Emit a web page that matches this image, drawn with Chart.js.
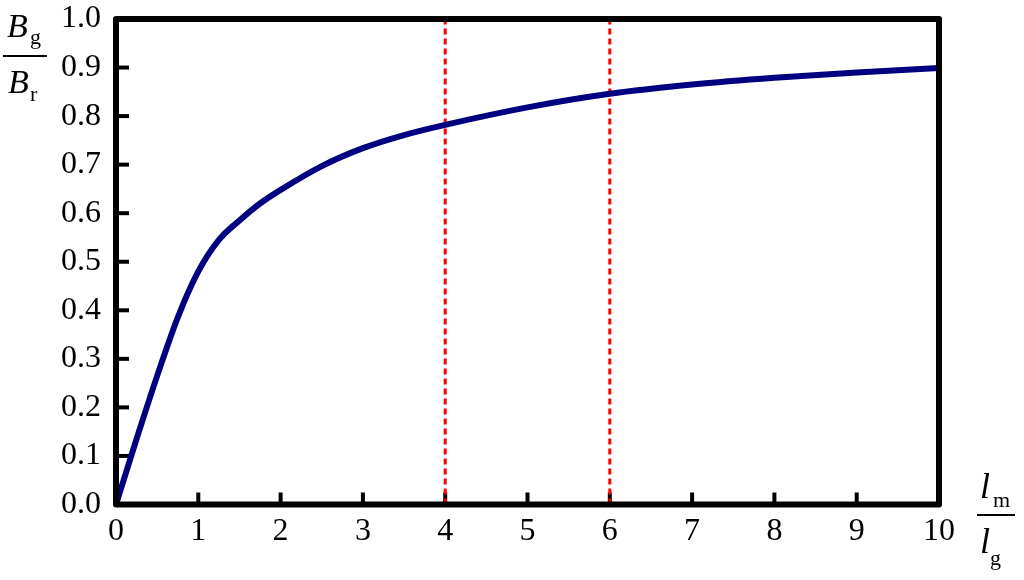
<!DOCTYPE html>
<html>
<head>
<meta charset="utf-8">
<script src="https://cdn.jsdelivr.net/npm/chart.js@4"></script>
<style>
  html, body { margin: 0; padding: 0; background: #fff; }
  #wrap { width: 1024px; height: 580px; }
</style>
</head>
<body>
<div id="wrap"><canvas id="chart"></canvas></div>
<script>
// l_m / l_g ratio and B_g / B_r ratio
const lengthRatio = [0, 0.25, 0.5, 0.75, 1, 1.25, 1.5, 1.75, 2, 2.5, 3, 3.5, 4, 5, 6, 7, 8, 9, 10];
const fluxRatio = [0, 0.135, 0.265, 0.385, 0.48, 0.545, 0.585, 0.62, 0.648, 0.697, 0.734, 0.761, 0.782, 0.818, 0.846, 0.865, 0.879, 0.89, 0.899];
const markerX = [4, 6];
const xTicks = [0, 1, 2, 3, 4, 5, 6, 7, 8, 9, 10];
const yTicks = [0, 0.1, 0.2, 0.3, 0.4, 0.5, 0.6, 0.7, 0.8, 0.9, 1.0];

const serif = '"Liberation Serif", "Times New Roman", serif';

const curve = lengthRatio.map((x, i) => ({ x: x, y: fluxRatio[i] }));

const markerSets = markerX.map(x => ({
  data: [{ x: x, y: 0 }, { x: x, y: 1 }],
  borderColor: '#ff0000',
  borderWidth: 3,
  borderDash: [6, 4],
  pointRadius: 0,
  fill: false,
}));

// frame, inward tick marks and the fraction axis titles
const framePlugin = {
  id: 'frame',
  beforeDatasetsDraw(chart) {
    const { ctx, chartArea: a, scales } = chart;
    ctx.save();
    ctx.strokeStyle = '#000';
    ctx.lineWidth = 4;
    yTicks.slice(1, -1).forEach(v => {
      const y = scales.y.getPixelForValue(v);
      ctx.beginPath();
      ctx.moveTo(a.left, y);
      ctx.lineTo(a.left + 13, y);
      ctx.stroke();
    });
    xTicks.slice(1, -1).forEach(v => {
      const x = scales.x.getPixelForValue(v);
      ctx.beginPath();
      ctx.moveTo(x, a.bottom);
      ctx.lineTo(x, a.bottom - 12);
      ctx.stroke();
    });
    ctx.restore();
  },
  afterDatasetsDraw(chart) {
    const { ctx, chartArea: a } = chart;
    ctx.save();
    ctx.strokeStyle = '#000';
    ctx.lineWidth = 6;
    ctx.lineJoin = 'round';
    ctx.strokeRect(a.left, a.top, a.right - a.left, a.bottom - a.top);

    ctx.fillStyle = '#000';
    ctx.textBaseline = 'alphabetic';
    ctx.textAlign = 'left';
    ctx.lineWidth = 2;

    // B_g / B_r
    ctx.font = 'italic 34px ' + serif;
    ctx.fillText('B', 7, 37);
    ctx.fillText('B', 8, 93);
    ctx.font = '22px ' + serif;
    ctx.fillText('g', 30, 44);
    ctx.fillText('r', 30, 101);
    ctx.beginPath();
    ctx.moveTo(3, 56);
    ctx.lineTo(47, 56);
    ctx.stroke();

    // l_m / l_g
    ctx.font = 'italic 36px ' + serif;
    ctx.fillText('l', 980, 498);
    ctx.fillText('l', 980, 553);
    ctx.font = '22px ' + serif;
    ctx.fillText('m', 993, 507);
    ctx.fillText('g', 990, 565);
    ctx.beginPath();
    ctx.moveTo(977, 515);
    ctx.lineTo(1015, 515);
    ctx.stroke();
    ctx.restore();
  }
};

new Chart(document.getElementById('chart'), {
  type: 'line',
  data: {
    datasets: [
      {
        data: curve,
        borderColor: '#000080',
        borderWidth: 6,
        pointRadius: 0,
        cubicInterpolationMode: 'monotone',
        fill: false,
      },
      ...markerSets,
    ],
  },
  options: {
    responsive: true,
    maintainAspectRatio: false,
    animation: false,
    events: [],
    layout: {
      padding: { left: 0, right: 85, top: 19, bottom: 0 },
    },
    plugins: {
      legend: { display: false },
      tooltip: { enabled: false },
    },
    scales: {
      x: {
        type: 'linear',
        min: 0,
        max: 10,
        afterFit: s => {
          s.height = 75.5;
          s.paddingLeft = 0;
          s.paddingRight = 0;
        },
        afterBuildTicks: s => { s.ticks = xTicks.map(v => ({ value: v })); },
        grid: { display: false, drawTicks: false },
        border: { display: false },
        ticks: {
          color: '#000',
          padding: 8,
          maxRotation: 0,
          font: { family: serif, size: 32 },
        },
      },
      y: {
        type: 'linear',
        min: 0,
        max: 1,
        afterFit: s => {
          s.width = 116;
          s.paddingTop = 0;
          s.paddingBottom = 0;
        },
        afterBuildTicks: s => { s.ticks = yTicks.map(v => ({ value: v })); },
        grid: { display: false, drawTicks: false },
        border: { display: false },
        ticks: {
          color: '#000',
          padding: 15,
          font: { family: serif, size: 32 },
          callback: v => v.toFixed(1),
        },
      },
    },
  },
  plugins: [framePlugin],
});
</script>
</body>
</html>
